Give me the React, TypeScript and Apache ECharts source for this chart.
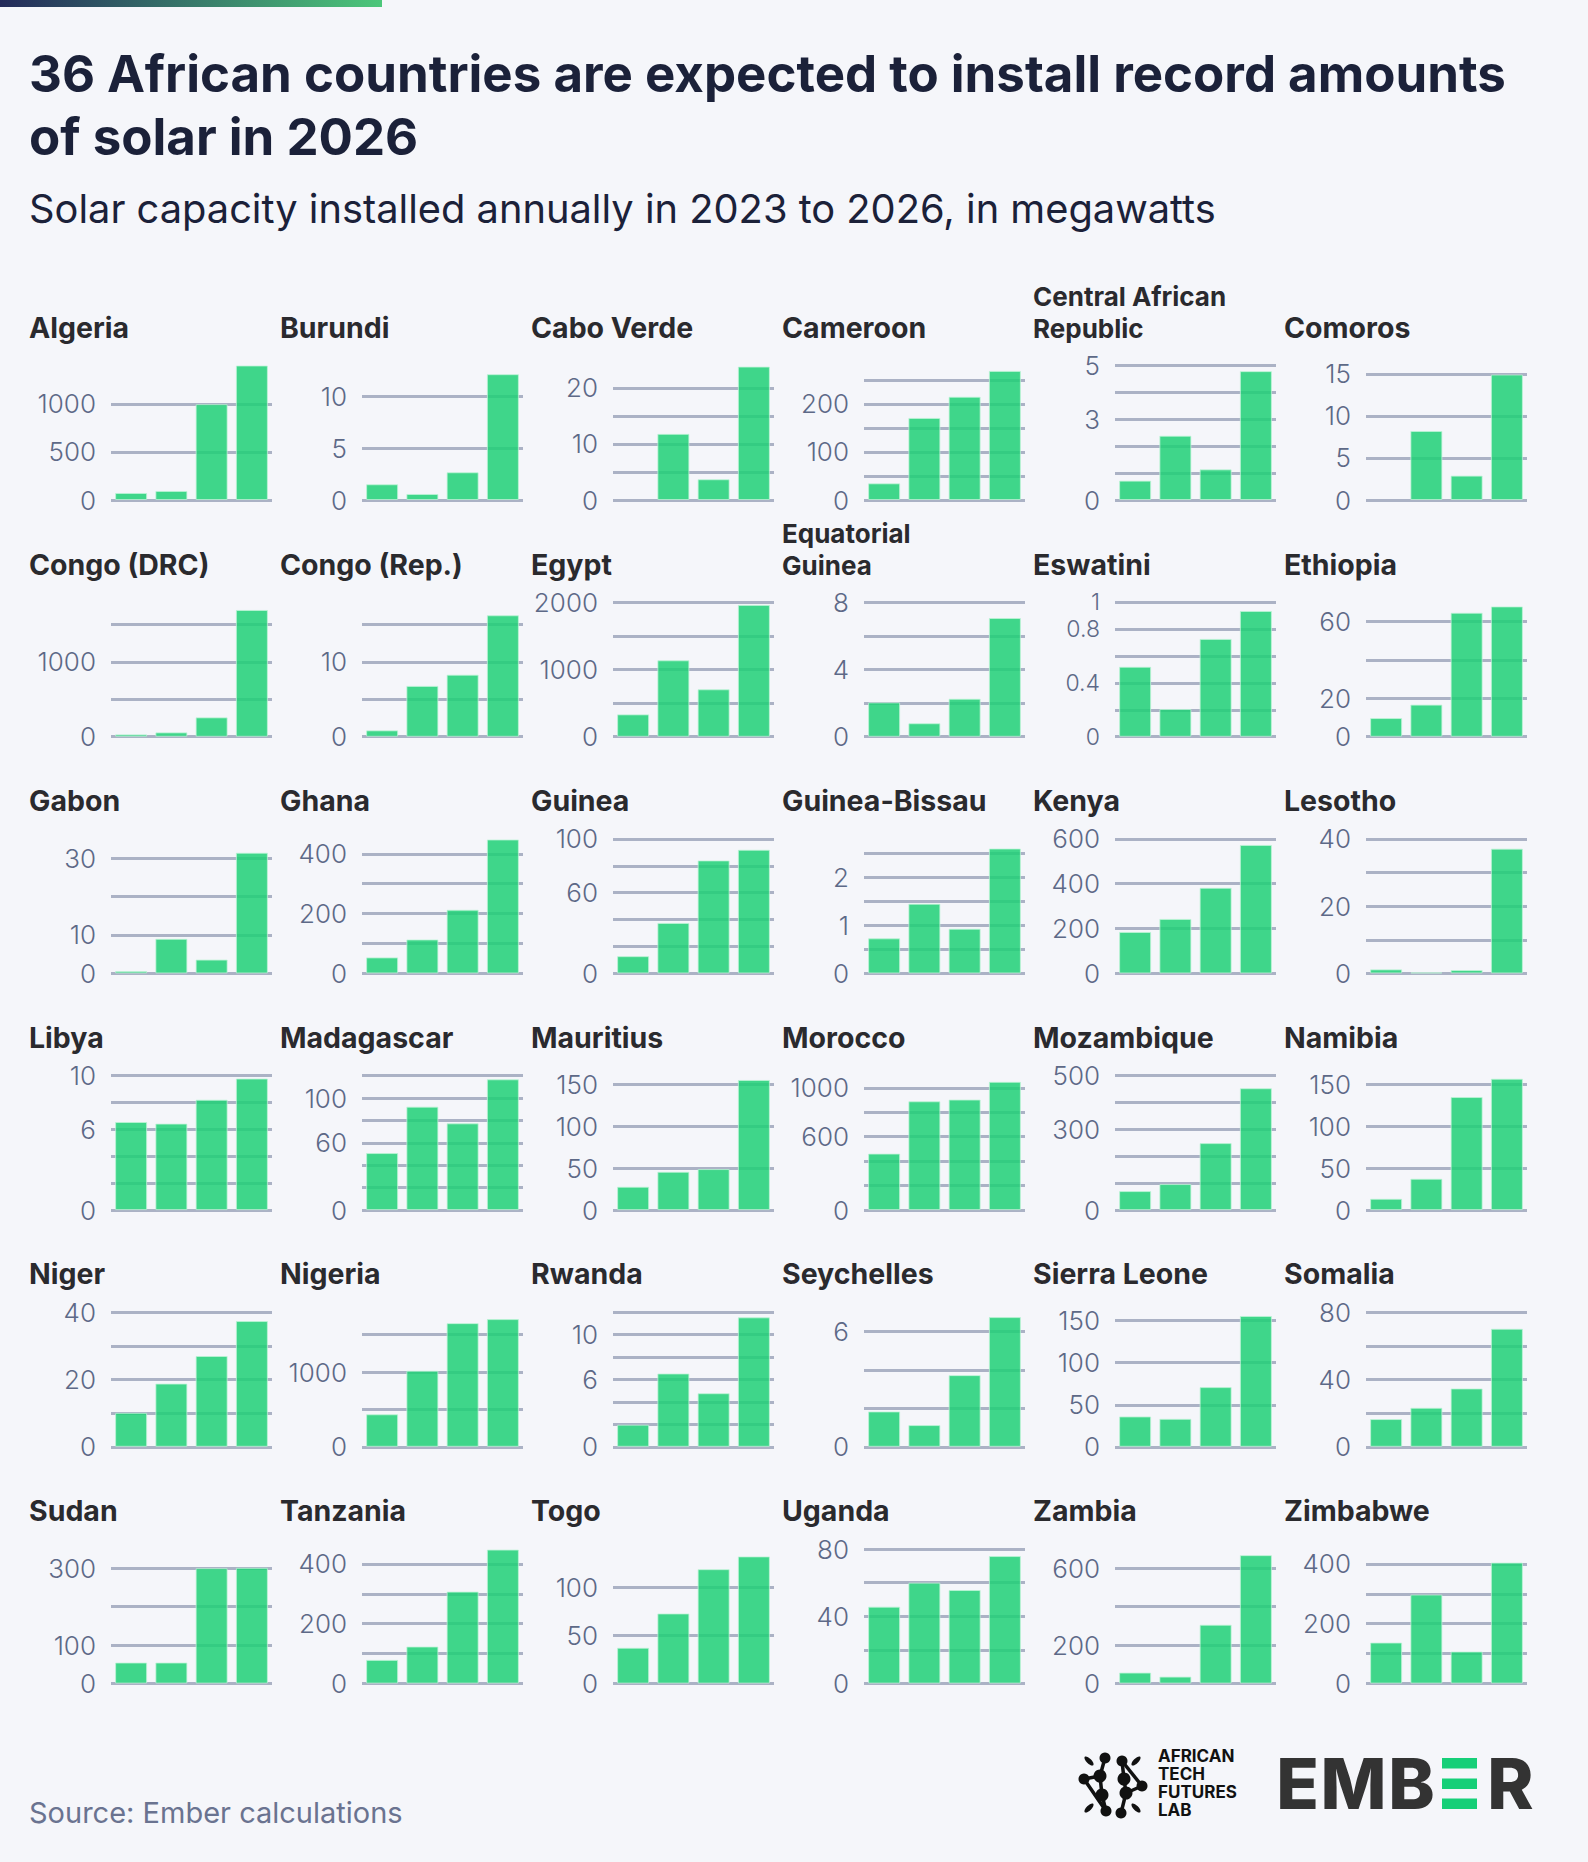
import React, { useEffect, useRef } from "react";
import * as echarts from "echarts";

const YEARS = ["2023", "2024", "2025", "2026"];

const COUNTRIES = [
  "Algeria", "Burundi", "Cabo Verde", "Cameroon", "Central African\nRepublic", "Comoros",
  "Congo (DRC)", "Congo (Rep.)", "Egypt", "Equatorial\nGuinea", "Eswatini", "Ethiopia",
  "Gabon", "Ghana", "Guinea", "Guinea-Bissau", "Kenya", "Lesotho",
  "Libya", "Madagascar", "Mauritius", "Morocco", "Mozambique", "Namibia",
  "Niger", "Nigeria", "Rwanda", "Seychelles", "Sierra Leone", "Somalia",
  "Sudan", "Tanzania", "Togo", "Uganda", "Zambia", "Zimbabwe",
];

const MW_2023 = [
  73, 1.52, 0, 34.7, 0.72, 0,
  31, 0.85, 332, 2.04, 0.52, 9.7,
  0.6, 53.5, 12.8, 0.73, 185, 1.2,
  6.55, 50.9, 27.8, 462, 70.7, 13.5,
  10.1, 435, 1.97, 1.84, 36.1, 16.5,
  54.6, 79, 37.2, 45.7, 57, 137,
];
const MW_2024 = [
  94, 0.58, 11.8, 170.8, 2.39, 8.21,
  58, 6.8, 1136, 0.8, 0.206, 16.7,
  9.0, 113.6, 37.5, 1.45, 243, 0.3,
  6.43, 92.3, 45.6, 890, 96.8, 37.3,
  18.8, 1018, 6.54, 1.13, 33.3, 23.2,
  54.6, 123.7, 72.9, 60, 36, 297.5,
];
const MW_2025 = [
  997, 2.68, 3.7, 215, 1.14, 2.9,
  259, 8.3, 705, 2.26, 0.727, 64.5,
  3.6, 212.8, 84, 0.93, 382, 1.0,
  8.21, 77.4, 48.8, 904, 249, 134.5,
  27, 1655, 4.78, 3.73, 71, 34.7,
  300, 307.5, 119, 55.6, 306, 107,
];
const MW_2026 = [
  1400, 12.16, 23.8, 268.75, 4.79, 14.92,
  1696, 16.25, 1960, 7.06, 0.935, 67.8,
  31.4, 448, 91.9, 2.6, 573, 37.1,
  9.78, 116.7, 154.8, 1049, 453, 156.3,
  37.4, 1709, 11.55, 6.75, 155.6, 70.2,
  301, 448, 132.3, 75.8, 668, 404.5,
];

const AXIS_MAX = [
  1400, 13, 24, 280, 5, 16,
  1800, 18, 2000, 8, 1, 70,
  35, 450, 100, 2.8, 600, 40,
  10, 120, 160, 1100, 500, 160,
  40, 1800, 12, 7, 160, 80,
  350, 450, 140, 80, 700, 450,
];
const GRID_STEP = [
  500, 5, 5, 50, 1, 5,
  500, 5, 500, 2, 0.2, 20,
  10, 100, 20, 0.5, 200, 10,
  2, 20, 50, 200, 100, 50,
  10, 500, 2, 2, 50, 20,
  100, 100, 50, 20, 200, 100,
];
const TICK_LABELS = [
  [0, 500, 1000], [0, 5, 10], [0, 10, 20], [0, 100, 200], [0, 3, 5], [0, 5, 10, 15],
  [0, 1000], [0, 10], [0, 1000, 2000], [0, 4, 8], [0, 0.4, 0.8, 1], [0, 20, 60],
  [0, 10, 30], [0, 200, 400], [0, 60, 100], [0, 1, 2], [0, 200, 400, 600], [0, 20, 40],
  [0, 6, 10], [0, 60, 100], [0, 50, 100, 150], [0, 600, 1000], [0, 300, 500], [0, 50, 100, 150],
  [0, 20, 40], [0, 1000], [0, 6, 10], [0, 6], [0, 50, 100, 150], [0, 40, 80],
  [0, 100, 300], [0, 200, 400], [0, 50, 100], [0, 40, 80], [0, 200, 600], [0, 200, 400],
];

const TITLE_LINES = [
  "36 African countries are expected to install record amounts",
  "of solar in 2026",
];
const SUBTITLE = "Solar capacity installed annually in 2023 to 2026, in megawatts";
const SOURCE = "Source: Ember calculations";
const ATFL_LINES = ["AFRICAN", "TECH", "FUTURES", "LAB"];

const W = 1588;
const H = 1862;
const FONT = "Inter, 'Noto Sans', sans-serif";
const MID = 0.363; // baseline offset from text middle, in em

function buildOption() {
  const grids: any[] = [];
  const xAxes: any[] = [];
  const yAxes: any[] = [];
  const series: any[] = [];
  const graphic: any[] = [];

  const colStep = 251;
  const rowStep = 236.7;
  const plotH = 134.5;

  COUNTRIES.forEach((name, i) => {
    const r = Math.floor(i / 6);
    const c = i % 6;
    const zeroY = 500 + rowStep * r;
    grids.push({
      left: 111 + colStep * c,
      top: zeroY - plotH,
      width: 161,
      height: plotH,
      containLabel: false,
    });
    xAxes.push({
      type: "category",
      gridIndex: i,
      data: YEARS,
      show: false,
    });
    const step = GRID_STEP[i];
    const max = AXIS_MAX[i];
    const ratio = max / step;
    const maxOnGrid = Math.abs(ratio - Math.round(ratio)) < 1e-6;
    const labels = TICK_LABELS[i];
    // dense label stacks (tick step < label height) get a slightly smaller font
    const labelPx = (step / max) * plotH < 30 && labels.length > 3 ? 23 : 26;
    yAxes.push({
      type: "value",
      gridIndex: i,
      min: 0,
      max,
      interval: step,
      axisLine: { show: false },
      axisTick: { show: false },
      splitLine: {
        show: true,
        showMinLine: true,
        showMaxLine: maxOnGrid,
        lineStyle: { color: "#abb2c5", width: 3 },
      },
      axisLabel: {
        margin: 15,
        color: "#5d6987",
        fontFamily: FONT,
        fontWeight: 300,
        fontSize: labelPx,
        formatter: (v: number) => {
          const hit = labels.some((l) => Math.abs(l - v) < 1e-9);
          return hit ? String(+v.toFixed(6)) : "";
        },
      },
    });
    const vals = [MW_2023[i], MW_2024[i], MW_2025[i], MW_2026[i]];
    series.push({
      type: "bar",
      xAxisIndex: i,
      yAxisIndex: i,
      barWidth: 32,
      data: vals.map((v) => (v === 0 ? null : v)),
      itemStyle: {
        color: "#1ed076",
        opacity: 0.85,
        borderColor: "rgba(190,245,215,0.9)",
        borderWidth: 1,
      },
      silent: true,
    });

    const twoLine = name.includes("\n");
    const fs = twoLine ? 26 : 28.5;
    const lh = twoLine ? 31.8 : 30;
    const baseline = 338 + 236.5 * r;
    graphic.push({
      type: "text",
      x: 29 + colStep * c,
      y: baseline - MID * fs + lh / 2,
      style: {
        text: name,
        font: `700 ${fs}px ${FONT}`,
        lineHeight: lh,
        fill: "#2a2a2e",
        textAlign: "left",
        textVerticalAlign: "bottom",
      },
    });
  });

  // top gradient bar
  graphic.push({
    type: "rect",
    shape: { x: 0, y: 0, width: 382, height: 7 },
    style: {
      fill: new echarts.graphic.LinearGradient(0, 0, 1, 0, [
        { offset: 0, color: "#232a5a" },
        { offset: 1, color: "#4cc77a" },
      ]),
    },
  });

  // title
  const tfs = 51;
  TITLE_LINES.forEach((t, k) => {
    graphic.push({
      type: "text",
      x: 29,
      y: 92 + 63.3 * k - MID * tfs,
      style: {
        text: t,
        font: `700 ${tfs}px ${FONT}`,
        fill: "#1b2139",
        textAlign: "left",
        textVerticalAlign: "middle",
      },
    });
  });
  const sfs = 39.8;
  graphic.push({
    type: "text",
    x: 29,
    y: 223 - MID * sfs,
    style: {
      text: SUBTITLE,
      font: `400 ${sfs}px ${FONT}`,
      fill: "#1b2139",
      textAlign: "left",
      textVerticalAlign: "middle",
    },
  });
  graphic.push({
    type: "text",
    x: 29,
    y: 1823 - MID * 29,
    style: {
      text: SOURCE,
      font: `400 29px ${FONT}`,
      fill: "#6a7390",
      textAlign: "left",
      textVerticalAlign: "middle",
    },
  });

  // ATFL logo text
  graphic.push({
    type: "text",
    x: 1158,
    y: 1816 - MID * 17 + 9,
    style: {
      text: ATFL_LINES.join("\n"),
      font: `700 17px ${FONT}`,
      lineHeight: 18,
      fill: "#111111",
      textAlign: "left",
      textVerticalAlign: "bottom",
    },
  });

  // ATFL icon (approximation)
  const cx = 1113;
  const cy = 1784;
  const blobs = [
    [-13, -8], [11, -5], [-11, 11], [13, 9],
    [-8, -26], [9, -23], [-29, -5], [29, 2], [-7, 27], [8, 29],
  ];
  const links = [
    [4, 0], [0, 2], [5, 1], [1, 3], [6, 0], [7, 3], [8, 2], [9, 3], [5, 7], [6, 8],
  ];
  links.forEach(([a, b]) => {
    graphic.push({
      type: "line",
      shape: {
        x1: cx + blobs[a][0], y1: cy + blobs[a][1],
        x2: cx + blobs[b][0], y2: cy + blobs[b][1],
      },
      style: { stroke: "#111", lineWidth: 3.5, lineCap: "round" },
    });
  });
  blobs.forEach(([dx, dy], k) => {
    graphic.push({
      type: "circle",
      shape: { cx: cx + dx, cy: cy + dy, r: k < 4 ? 6.5 : 5.5 },
      style: { fill: "#111" },
    });
  });
  const lens = [[-24, -23, -45], [23, -23, 45], [-24, 24, 45], [23, 24, -45]];
  lens.forEach(([dx, dy, rot]) => {
    graphic.push({
      type: "ellipse",
      x: cx + dx,
      y: cy + dy,
      rotation: (rot * Math.PI) / 180,
      shape: { cx: 0, cy: 0, rx: 6, ry: 2.5 },
      style: { fill: "#111" },
    });
  });

  // EMBER wordmark
  const emberLetters = [["E", 1297.5], ["M", 1353.5], ["B", 1411.5], ["R", 1510.5]];
  emberLetters.forEach(([ch, x]) => {
    graphic.push({
      type: "text",
      x: x as number,
      y: 1809 - MID * 70,
      style: {
        text: ch as string,
        font: `800 70px ${FONT}`,
        fill: "#333333",
        textAlign: "center",
        textVerticalAlign: "middle",
      },
    });
  });
  [1758, 1778.5, 1798.5].forEach((y) => {
    graphic.push({
      type: "rect",
      shape: { x: 1442, y, width: 35, height: 10.5 },
      style: { fill: "#16cf78" },
    });
  });

  return {
    animation: false,
    backgroundColor: "#f5f6fa",
    grid: grids,
    xAxis: xAxes,
    yAxis: yAxes,
    series,
    graphic,
  };
}

export default function App() {
  const ref = useRef<HTMLDivElement>(null);
  useEffect(() => {
    document.body.style.margin = "0";
    document.body.style.background = "#f5f6fa";
    if (!ref.current) return;
    const chart = echarts.init(ref.current, undefined, { renderer: "svg", width: W, height: H });
    chart.setOption(buildOption());
    return () => chart.dispose();
  }, []);
  return <div ref={ref} style={{ width: W, height: H }} />;
}
